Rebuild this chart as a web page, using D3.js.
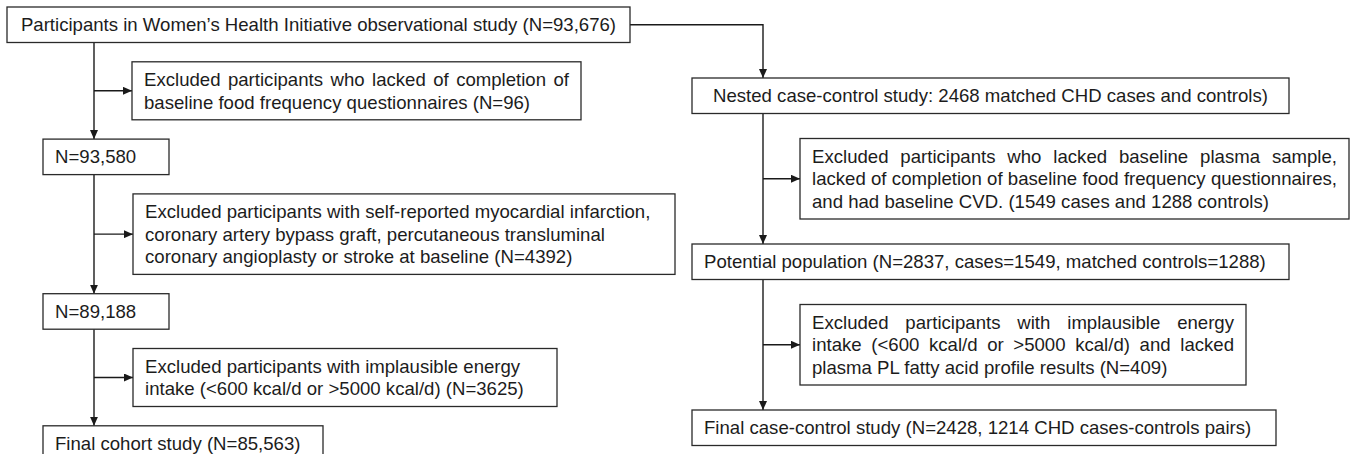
<!DOCTYPE html>
<html lang="en">
<head>
    <meta charset="UTF-8">
    <title>WHI study flow chart</title>
    <script src="https://d3js.org/d3.v7.min.js"></script>
    <style>
        body { margin: 0; background: #fff; }
        svg { font-family: Arial, "Liberation Sans", sans-serif; }
        .box { fill: #fff; stroke: #2a2a2a; stroke-width: 1.3; }
        .link { fill: none; stroke: #1a1a1a; stroke-width: 1.4; }
        text { fill: #1c1c1c; }
    </style>
</head>
<body>
    <script>
        const width = 1355;
        const height = 454;

        // ---- data: box texts (one string per line) ----
        const cohortSteps = [
            ["Participants in Women’s Health Initiative observational study (N=93,676)"],
            ["N=93,580"],
            ["N=89,188"],
            ["Final cohort study (N=85,563)"]
        ];
        const cohortExclusions = [
            ["Excluded participants who lacked of completion of",
             "baseline food frequency questionnaires (N=96)"],
            ["Excluded participants with self-reported myocardial infarction,",
             "coronary artery bypass graft, percutaneous transluminal",
             "coronary angioplasty or stroke at baseline (N=4392)"],
            ["Excluded participants with implausible energy",
             "intake (<600 kcal/d or >5000 kcal/d) (N=3625)"]
        ];
        const caseControlSteps = [
            ["Nested case-control study: 2468 matched CHD cases and controls)"],
            ["Potential population (N=2837, cases=1549, matched controls=1288)"],
            ["Final case-control study (N=2428, 1214 CHD cases-controls pairs)"]
        ];
        const caseControlExclusions = [
            ["Excluded participants who lacked baseline plasma sample,",
             "lacked of completion of baseline food frequency questionnaires,",
             "and had baseline CVD. (1549 cases and 1288 controls)"],
            ["Excluded participants with implausible energy",
             "intake (<600 kcal/d or >5000 kcal/d) and lacked",
             "plasma PL fatty acid profile results (N=409)"]
        ];

        // ---- layout ----
        const fontSize = 18.6, lineH = 22.5, padY = 6.5, padX = 12;
        const boxH = n => n * lineH + 2 * padY;

        // box x / width / text alignment, in drawing order (step, exclusion, step, ...)
        const leftLayout = {
            trunk: 94, top: 7, gap: 19.3,
            steps: [{ x: 7, w: 623, align: "middle" }, { x: 43, w: 126 }, { x: 43, w: 126 }, { x: 43, w: 280 }],
            excl: [{ x: 132, w: 449, justify: [true] }, { x: 133, w: 542 }, { x: 133, w: 424 }]
        };
        const rightLayout = {
            trunk: 763, top: 78, gap: 25,
            steps: [{ x: 692, w: 597, align: "middle" }, { x: 692, w: 597 }, { x: 692, w: 584 }],
            excl: [{ x: 800, w: 549, justify: [true, true] }, { x: 800, w: 446, justify: [true, true] }]
        };

        const svg = d3.select("body").append("svg")
            .attr("width", width)
            .attr("height", height)
            .style("font-size", fontSize + "px");

        svg.append("defs").append("marker")
            .attr("id", "arrow")
            .attr("markerUnits", "userSpaceOnUse")
            .attr("viewBox", "0 0 9 8")
            .attr("markerWidth", 9)
            .attr("markerHeight", 8)
            .attr("refX", 9)
            .attr("refY", 4)
            .attr("orient", "auto")
            .append("path")
            .attr("d", "M0,0L9,4L0,8Z")
            .attr("fill", "#1a1a1a");

        const line = d3.line();

        function drawText(g, str, x0, x1, y, mode) {
            const t = g.append("text").attr("y", y).attr("dy", "0.35em");
            if (mode === "justify") {
                const words = str.split(" ");
                const spans = t.selectAll("tspan").data(words).join("tspan").text(d => d);
                const widths = spans.nodes().map(n => n.getComputedTextLength());
                const gap = (x1 - x0 - d3.sum(widths)) / (words.length - 1);
                let x = x0;
                spans.attr("x", (d, i) => { const xi = x; x += widths[i] + gap; return xi; });
            } else if (mode === "middle") {
                t.attr("x", (x0 + x1) / 2).attr("text-anchor", "middle").text(str);
            } else {
                t.attr("x", x0).text(str);
            }
        }

        function drawBox(node) {
            const g = svg.append("g");
            g.append("rect").attr("class", "box")
                .attr("x", node.x).attr("y", node.y)
                .attr("width", node.w).attr("height", node.h);
            node.lines.forEach((s, k) => {
                let mode = node.align || "start";
                if (node.justify && node.justify[k]) mode = "justify";
                drawText(g, s, node.x + padX, node.x + node.w - padX, node.y + padY + lineH * (k + 0.5), mode);
            });
        }

        function arrow(points) {
            svg.append("path").attr("class", "link")
                .attr("d", line(points))
                .attr("marker-end", "url(#arrow)");
        }

        // stack one column: step, exclusion, step, exclusion, ... step
        function buildColumn(steps, exclusions, lay) {
            const nodes = [];
            let y = lay.top;
            steps.forEach((lines, i) => {
                const s = { ...lay.steps[i], lines, y, h: boxH(lines.length), kind: "step" };
                nodes.push(s);
                y += s.h + lay.gap;
                if (i < exclusions.length) {
                    const e = { ...lay.excl[i], lines: exclusions[i], y, h: boxH(exclusions[i].length), kind: "excl" };
                    nodes.push(e);
                    y += e.h + lay.gap;
                }
            });
            return nodes;
        }

        function drawColumn(nodes, lay) {
            const steps = nodes.filter(n => n.kind === "step");
            const excl = nodes.filter(n => n.kind === "excl");
            excl.forEach((e, i) => {
                const a = steps[i], b = steps[i + 1];
                arrow([[lay.trunk, a.y + a.h], [lay.trunk, b.y]]);
                arrow([[lay.trunk, e.y + e.h / 2], [e.x, e.y + e.h / 2]]);
            });
            nodes.forEach(drawBox);
        }

        const leftNodes = buildColumn(cohortSteps, cohortExclusions, leftLayout);
        const rightNodes = buildColumn(caseControlSteps, caseControlExclusions, rightLayout);

        // link from the parent study to the nested case-control study
        const parent = leftNodes[0], nested = rightNodes[0];
        arrow([[parent.x + parent.w, parent.y + parent.h / 2],
               [rightLayout.trunk, parent.y + parent.h / 2],
               [rightLayout.trunk, nested.y]]);

        drawColumn(leftNodes, leftLayout);
        drawColumn(rightNodes, rightLayout);
    </script>
</body>
</html>
